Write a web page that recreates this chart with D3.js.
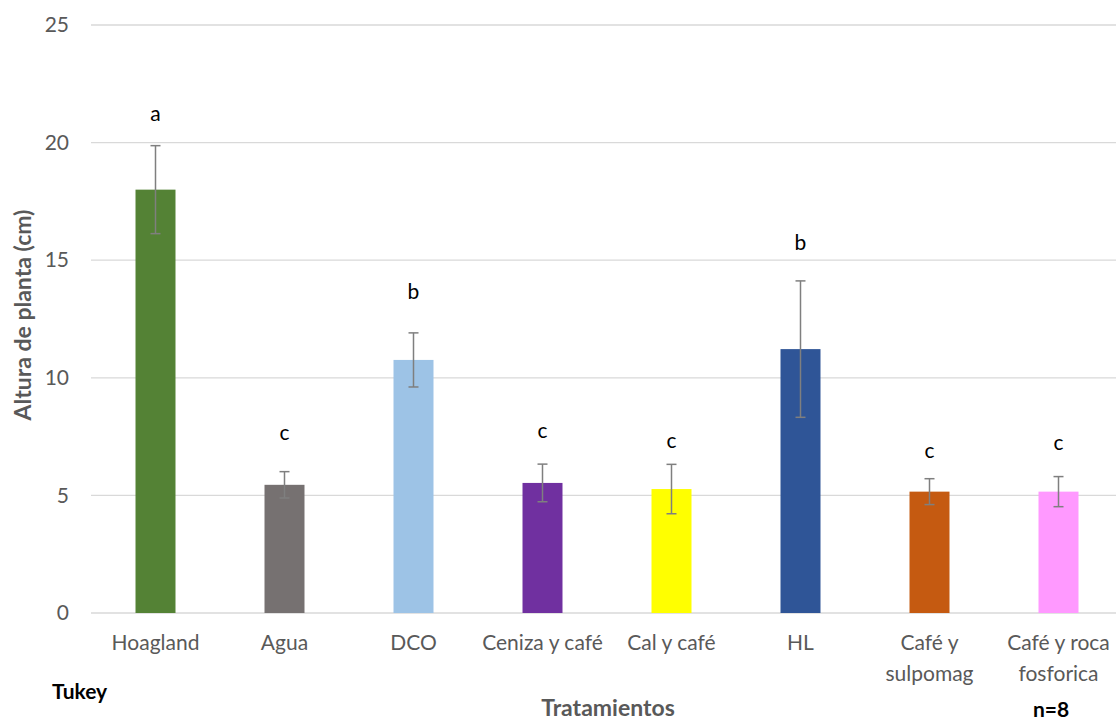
<!DOCTYPE html>
<html><head><meta charset="utf-8">
<script src="https://cdn.jsdelivr.net/npm/d3@7"></script>
<style>body{margin:0;background:#fff}svg{display:block}</style>
</head><body>
<svg id="c" width="1116" height="722"></svg>
<script>
const categories = ["Hoagland","Agua","DCO","Ceniza y café","Cal y café","HL","Café y\nsulpomag","Café y roca\nfosforica"];
const values = [18.0, 5.45, 10.76, 5.53, 5.27, 11.22, 5.16, 5.16];
const errors = [1.87, 0.56, 1.15, 0.8, 1.05, 2.9, 0.55, 0.64];
const letters = ["a","c","b","c","c","b","c","c"];
const letterPos = [21.2, 7.65, 13.65, 7.74, 7.31, 15.73, 6.89, 7.23];
const colors = ["#548235","#767171","#9DC3E6","#7030A0","#FFFF00","#2F5597","#C55A11","#FF99FF"];
const yTicks = [0,5,10,15,20,25];

const svg = d3.select("#c");
const font = "Lato, 'Open Sans', sans-serif";
const x = d3.scaleBand().domain(categories).range([91, 1123]).paddingInner(0.69).paddingOuter(0.345);
const y = d3.scaleLinear().domain([0,25]).range([613, 25]);

// gridlines
svg.append("g").selectAll("line").data(yTicks).join("line")
  .attr("x1", 91).attr("x2", 1116)
  .attr("y1", d=>y(d)).attr("y2", d=>y(d))
  .attr("stroke", "#d9d9d9").attr("stroke-width", 1.3);

// y axis labels
const yAxis = d3.axisLeft(y).tickValues(yTicks).tickSize(0).tickPadding(0);
const ga = svg.append("g").attr("transform","translate(69,0)").call(yAxis);
ga.select(".domain").remove();
ga.selectAll("text").attr("fill","#595959").style("font-family",font).style("font-size","21px");

// bars
svg.append("g").selectAll("rect").data(categories).join("rect")
  .attr("x", d=>x(d)).attr("width", x.bandwidth())
  .attr("y", (d,i)=>y(values[i])).attr("height",(d,i)=>y(0)-y(values[i]))
  .attr("fill",(d,i)=>colors[i]);

// error bars
const eg = svg.append("g").attr("stroke","#7f7f7f").attr("stroke-width",1.5);
categories.forEach((c,i)=>{
  const cx = x(c)+x.bandwidth()/2;
  const t = y(values[i]+errors[i]), b = y(values[i]-errors[i]);
  eg.append("line").attr("x1",cx).attr("x2",cx).attr("y1",t).attr("y2",b);
  eg.append("line").attr("x1",cx-5).attr("x2",cx+5).attr("y1",t).attr("y2",t);
  eg.append("line").attr("x1",cx-5).attr("x2",cx+5).attr("y1",b).attr("y2",b);
});

// letters
svg.append("g").selectAll("text").data(categories).join("text")
  .attr("x", d=>x(d)+x.bandwidth()/2)
  .attr("y",(d,i)=>y(letterPos[i])+7)
  .attr("text-anchor","middle").attr("fill","#000")
  .style("font-family",font).style("font-size","21px")
  .text((d,i)=>letters[i]);

// x labels
const xl = svg.append("g");
categories.forEach(c=>{
  const lines = c.split("\n");
  const t = xl.append("text").attr("x", x(c)+x.bandwidth()/2).attr("y",650)
    .attr("text-anchor","middle").attr("fill","#595959")
    .style("font-family",font).style("font-size","21px");
  lines.forEach((l,j)=>t.append("tspan").attr("x",x(c)+x.bandwidth()/2).attr("dy", j===0?0:31).text(l));
});

// axis titles
svg.append("text").attr("transform","translate(31,315) rotate(-90)")
  .attr("text-anchor","middle").attr("fill","#595959")
  .style("font-family",font).style("font-size","23px").style("font-weight","bold")
  .text("Altura de planta (cm)");
svg.append("text").attr("x",608).attr("y",716).attr("text-anchor","middle").attr("fill","#595959")
  .style("font-family",font).style("font-size","23px").style("font-weight","bold")
  .text("Tratamientos");
svg.append("text").attr("x",52).attr("y",699).attr("fill","#000")
  .style("font-family",font).style("font-size","21px").style("font-weight","bold")
  .text("Tukey");
svg.append("text").attr("x",1051).attr("y",717).attr("text-anchor","middle").attr("fill","#000")
  .style("font-family",font).style("font-size","21px").style("font-weight","bold")
  .text("n=8");
</script>
</body></html>
